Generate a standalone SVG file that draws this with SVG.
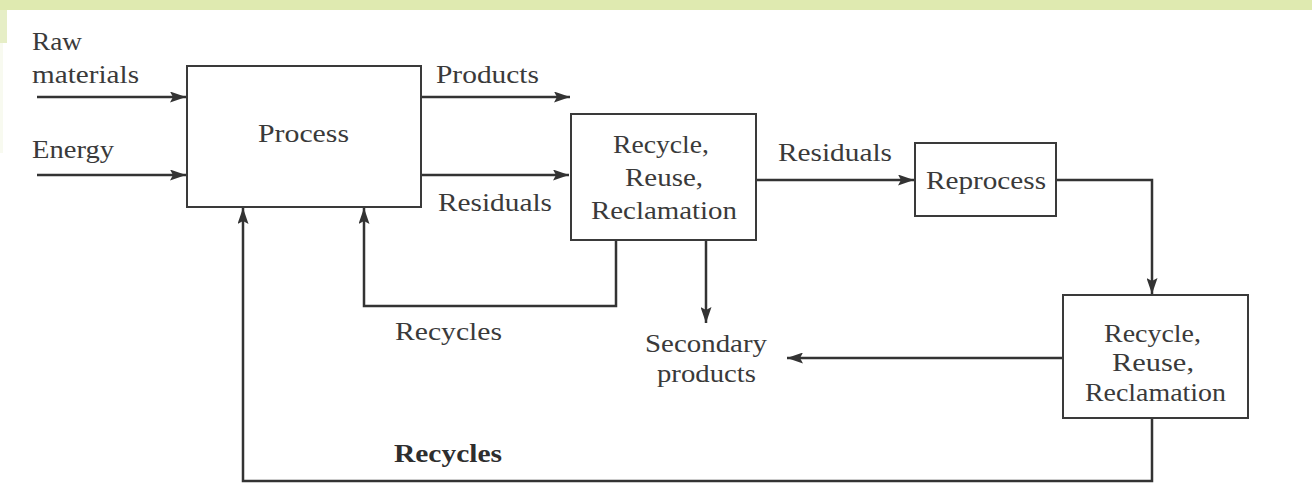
<svg xmlns="http://www.w3.org/2000/svg" width="1312" height="484" viewBox="0 0 1312 484">
  <style>
    .box { fill: #ffffff; stroke: #3a3a3a; stroke-width: 2; }
    .lbl { font-family: "Liberation Serif", "Times New Roman", serif; font-size: 26px; fill: #3a3a3a; }
    .bold { font-weight: bold; fill: #2e2e2e; }
    .conn { fill: none; stroke: #333333; stroke-width: 2.5; }
  </style>
  <defs>
    <marker id="arrow" markerUnits="userSpaceOnUse" markerWidth="16" markerHeight="11" refX="16" refY="5.5" orient="auto">
      <path d="M0,0 L16,5.5 L0,11 L3,5.5 z" fill="#333333"/>
    </marker>
  </defs>

  <rect x="0" y="0" width="1312" height="484" fill="#ffffff"/>
  <g id="background">
    <rect x="0" y="0" width="1312" height="10" fill="#dfeab0"/>
    <rect x="0" y="10" width="7" height="33" fill="#e6eec6"/>
    <rect x="0" y="43" width="3" height="110" fill="#f8faf0"/>
  </g>

  <g id="connectors">
    <path class="conn" d="M37,97 H186" marker-end="url(#arrow)"/>
    <path class="conn" d="M37,175 H186" marker-end="url(#arrow)"/>
    <path class="conn" d="M421,97 H570" marker-end="url(#arrow)"/>
    <path class="conn" d="M421,175 H569" marker-end="url(#arrow)"/>
    <path class="conn" d="M757,180 H914" marker-end="url(#arrow)"/>
    <path class="conn" d="M1056,180 H1152 V294" marker-end="url(#arrow)"/>
    <path class="conn" d="M1063,358 H787" marker-end="url(#arrow)"/>
    <path class="conn" d="M706,240 V323" marker-end="url(#arrow)"/>
    <path class="conn" d="M616,240 V306 H364 V208" marker-end="url(#arrow)"/>
    <path class="conn" d="M1152,418 V481 H243 V208" marker-end="url(#arrow)"/>
  </g>

  <g id="inputs">
    <text class="lbl" x="32" y="50" textLength="50" lengthAdjust="spacingAndGlyphs">Raw</text>
    <text class="lbl" x="32" y="83" textLength="107" lengthAdjust="spacingAndGlyphs">materials</text>
    <text class="lbl" x="32" y="158" textLength="82" lengthAdjust="spacingAndGlyphs">Energy</text>
  </g>

  <g id="process">
    <rect class="box" x="187" y="66" width="234" height="141"/>
    <text class="lbl" x="258" y="142" textLength="91" lengthAdjust="spacingAndGlyphs">Process</text>
  </g>

  <g id="labels">
    <text class="lbl" x="436" y="83" textLength="103" lengthAdjust="spacingAndGlyphs">Products</text>
    <text class="lbl" x="438" y="211" textLength="114" lengthAdjust="spacingAndGlyphs">Residuals</text>
    <text class="lbl" x="778" y="161" textLength="114" lengthAdjust="spacingAndGlyphs">Residuals</text>
    <text class="lbl" x="395" y="340" textLength="107" lengthAdjust="spacingAndGlyphs">Recycles</text>
    <text class="lbl bold" x="394" y="462" textLength="108" lengthAdjust="spacingAndGlyphs">Recycles</text>
  </g>

  <g id="recycle1">
    <rect class="box" x="571" y="114" width="185" height="126"/>
    <text class="lbl" x="613" y="153" textLength="96" lengthAdjust="spacingAndGlyphs">Recycle,</text>
    <text class="lbl" x="625" y="186" textLength="78" lengthAdjust="spacingAndGlyphs">Reuse,</text>
    <text class="lbl" x="591" y="219" textLength="146" lengthAdjust="spacingAndGlyphs">Reclamation</text>
  </g>

  <g id="reprocess">
    <rect class="box" x="915" y="143" width="141" height="73"/>
    <text class="lbl" x="926" y="189" textLength="120" lengthAdjust="spacingAndGlyphs">Reprocess</text>
  </g>

  <g id="recycle2">
    <rect class="box" x="1063" y="295" width="185" height="123"/>
    <text class="lbl" x="1104" y="342" textLength="97" lengthAdjust="spacingAndGlyphs">Recycle,</text>
    <text class="lbl" x="1112" y="371" textLength="82" lengthAdjust="spacingAndGlyphs">Reuse,</text>
    <text class="lbl" x="1085" y="401" textLength="141" lengthAdjust="spacingAndGlyphs">Reclamation</text>
  </g>

  <g id="secondary">
    <text class="lbl" x="645" y="352" textLength="122" lengthAdjust="spacingAndGlyphs">Secondary</text>
    <text class="lbl" x="657" y="382" textLength="99" lengthAdjust="spacingAndGlyphs">products</text>
  </g>
</svg>
